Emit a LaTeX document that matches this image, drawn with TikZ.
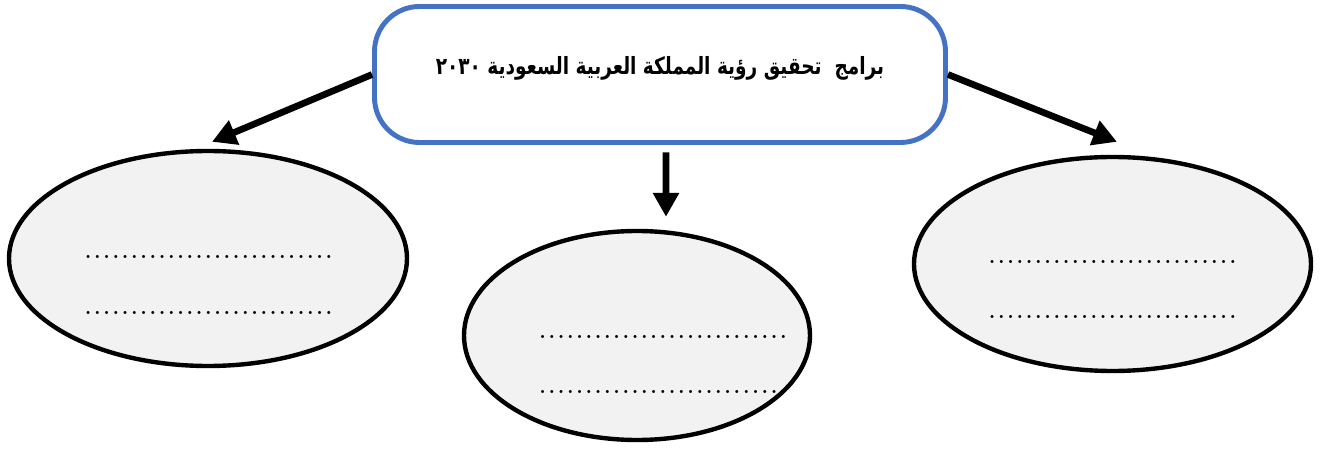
\documentclass[tikz,border=0pt]{standalone}
\usepackage{fontspec}
\usetikzlibrary{shapes.geometric, arrows.meta}
\TeXXeTstate=1
\newfontfamily\arabicfont[Script=Arabic, FakeStretch=0.78]{DejaVu Sans}
\definecolor{boxblue}{HTML}{4472C4}
\definecolor{boxgray}{HTML}{F2F2F2}
\newcommand{\dotrow}{\hbox{\xleaders\hbox to 0.184cm{\hss.\hss}\hskip 5cm}}
\tikzset{main/.style = {draw=boxblue, line width=2.8pt, rounded corners=0.9cm, minimum width=11.42cm, minimum height=2.72cm, font=\arabicfont\bfseries\fontsize{13.5}{16}\selectfont, text height=0.32cm, text depth=0.3cm}}
\tikzset{oval/.style = {draw, ellipse, fill=boxgray, line width=2.5pt, inner sep=0pt}}
\tikzset{dots/.style = {inner sep=0pt, align=center, font=\bfseries\fontsize{12}{31.3}\selectfont, text height=0cm, text depth=1.1cm}}
\tikzset{arrow/.style = {-{Triangle[length=0.48cm, width=0.5cm]}, line width=3.8pt}}

\begin{document}
\begin{tikzpicture}
\useasboundingbox (0,0) rectangle (26.6,9);
\node[main] (p) at (13.2,7.51) {\beginR برامج~ تحقيق رؤية المملكة العربية السعودية \beginL٢٠٣٠\endL\endR};

\node[oval, minimum width=7.96cm, minimum height=4.30cm] (p1) at (4.16,3.83) {};
\node[oval, minimum width=6.92cm, minimum height=4.18cm] (p2) at (12.74,2.29) {};
\node[oval, minimum width=7.94cm, minimum height=4.28cm] (p3) at (22.25,3.72) {};

\node[dots] (d1) at (4.17,2.17) {\dotrow\\\dotrow};
\node[dots] (d2) at (13.26,0.57) {\dotrow\\\dotrow};
\node[dots] (d3) at (22.25,2.07) {\dotrow\\\dotrow};

\path [arrow] (p.west) edge ([xshift=0.08cm, yshift=0.14cm]p1.north);
\path [arrow] ([xshift=0.12cm, yshift=-0.15cm]p.south) edge ([xshift=0.58cm, yshift=0.24cm]p2.north);
\path [arrow] (p.east) edge ([xshift=0.09cm, yshift=0.26cm]p3.north);
\end{tikzpicture}
\end{document}
